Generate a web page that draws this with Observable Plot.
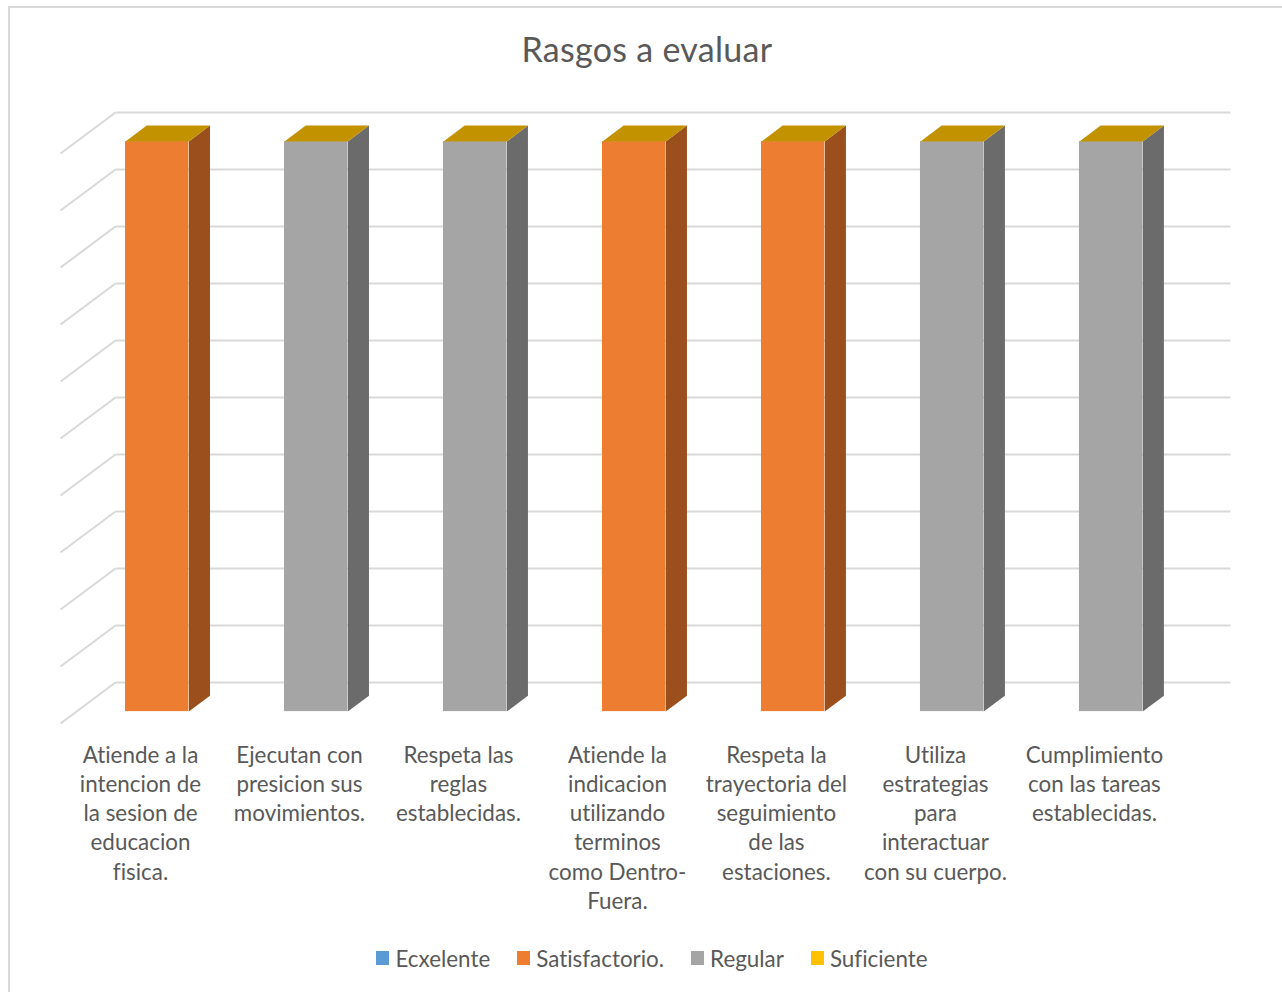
<!DOCTYPE html>
<html lang="es">
<head>
<meta charset="utf-8">
<title>Rasgos a evaluar</title>
<script src="https://cdn.jsdelivr.net/npm/d3@7"></script>
<script src="https://cdn.jsdelivr.net/npm/@observablehq/plot@0.6"></script>
<style>
  html, body { margin: 0; padding: 0; background: #fff; overflow: hidden; }
  body { width: 1282px; height: 992px; position: relative; font-family: Lato, sans-serif; color: #595959; font-variant-ligatures: none; }
  #frame { position: absolute; left: 8px; top: 6px; right: 0; bottom: 0; border-left: 2px solid #d9d9d9; border-top: 2px solid #d9d9d9; }
  #title { position: absolute; left: 0; width: 1294px; top: 28px; text-align: center; font-size: 34px; line-height: 42px; letter-spacing: .3px; }
  #chart { position: absolute; left: 0; top: 90px; }
  #chart text { font-variant-ligatures: none; }
  #legend { position: absolute; left: 0; width: 1304px; top: 943px; height: 30px; display: flex; justify-content: center; align-items: center; font-size: 22.4px; }
  #legend .item { display: flex; align-items: center; margin: 0 13.5px; }
  #legend .sw { width: 13px; height: 14px; margin-right: 6px; }
</style>
</head>
<body>
<div id="frame"></div>
<div id="title">Rasgos a evaluar</div>
<div id="chart"></div>
<div id="legend"></div>
<script>
const categories = [
  "Atiende a la\nintencion de\nla sesion de\neducacion\nfisica.",
  "Ejecutan con\npresicion sus\nmovimientos.",
  "Respeta las\nreglas\nestablecidas.",
  "Atiende la\nindicacion\nutilizando\nterminos\ncomo Dentro-\nFuera.",
  "Respeta la\ntrayectoria del\nseguimiento\nde las\nestaciones.",
  "Utiliza\nestrategias\npara\ninteractuar\ncon su cuerpo.",
  "Cumplimiento\ncon las tareas\nestablecidas."
];
const seriesNames = ["Ecxelente", "Satisfactorio.", "Regular", "Suficiente"];
const ecxelente     = [0, 0, 0, 0, 0, 0, 0];
const satisfactorio = [10, 0, 0, 10, 10, 0, 0];
const regular       = [0, 10, 10, 0, 0, 10, 10];
const suficiente    = [0, 0, 0, 0, 0, 0, 0];
const gridValues = [0, 1, 2, 3, 4, 5, 6, 7, 8, 9, 10];

const frontColors = ["#5B9BD5", "#ED7D31", "#A5A5A5", "#FFC000"];
const sideColors  = ["#3F6F9A", "#9A4F1C", "#6B6B6B", "#BF9000"];
const topColor = "#C29200";

// Oblique projection: how far one unit of depth shifts a point, in data units.
const depthX = 0.346, depthY = 0.719;
const gridEnd = categories.length + depthX + 0.013;
const barFrom = 0.3, barTo = 0.698;
const near = {tx: 0.315, ty: 0.29}, far = {tx: 0.7, ty: 0.68};
const P = (x, y, d) => ({x: x + d.tx * depthX, y: y + d.ty * depthY});

const seriesValues = [ecxelente, satisfactorio, regular, suficiente];
const bars = [];
categories.forEach((c, i) => {
  let base = 0;
  seriesValues.forEach((vals, s) => {
    if (vals[i] > 0) bars.push({i, s, base, top: base + vals[i]});
    base += vals[i];
  });
});
const totals = categories.map((c, i) => d3.sum(seriesValues, v => v[i]));

const fronts = bars.map(b => {
  const a = P(b.i + barFrom, b.base, near), c = P(b.i + barTo, b.top, near);
  return {x1: a.x, x2: c.x, y1: a.y, y2: c.y, name: seriesNames[b.s]};
});
const sides = bars.flatMap((b, k) => [
  P(b.i + barTo, b.base, near), P(b.i + barTo, b.base, far),
  P(b.i + barTo, b.top, far), P(b.i + barTo, b.top, near)
].map(p => ({...p, id: k, color: sideColors[b.s]})));
const tops = totals.flatMap((v, i) => [
  P(i + barFrom, v, near), P(i + barTo, v, near),
  P(i + barTo, v, far), P(i + barFrom, v, far)
].map(p => ({...p, id: i})));

const plot = Plot.plot({
  width: 1282, height: 840,
  marginLeft: 60, marginRight: 52, marginTop: 22, marginBottom: 207,
  x: {domain: [0, gridEnd], axis: null},
  y: {domain: [0, 10 + depthY], axis: null},
  color: {domain: seriesNames, range: frontColors},
  marks: [
    Plot.link(gridValues, {x1: 0, y1: d => d, x2: depthX, y2: d => d + depthY, stroke: "#d9d9d9", strokeWidth: 2}),
    Plot.link(gridValues, {x1: depthX, y1: d => d + depthY, x2: gridEnd, y2: d => d + depthY, stroke: "#d9d9d9", strokeWidth: 2}),
    Plot.rect(fronts, {x1: "x1", x2: "x2", y1: "y1", y2: "y2", fill: "name"}),
    Plot.line(sides, {x: "x", y: "y", z: "id", fill: d => d.color, stroke: "none"}),
    Plot.line(tops, {x: "x", y: "y", z: "id", fill: topColor, stroke: "none"}),
    Plot.text(categories, {
      x: (d, i) => i + 0.5, y: 0, text: d => d,
      lineAnchor: "top", dy: 18.5, dx: 0.5, lineHeight: 1.305,
      fontSize: 22.4, fontFamily: "Lato, sans-serif", fill: "#595959"
    })
  ]
});
document.getElementById("chart").appendChild(plot);

const legend = d3.select("#legend");
seriesNames.forEach((name, i) => {
  const item = legend.append("div").attr("class", "item");
  item.append("div").attr("class", "sw").style("background", frontColors[i]);
  item.append("span").text(name);
});
</script>
</body>
</html>
